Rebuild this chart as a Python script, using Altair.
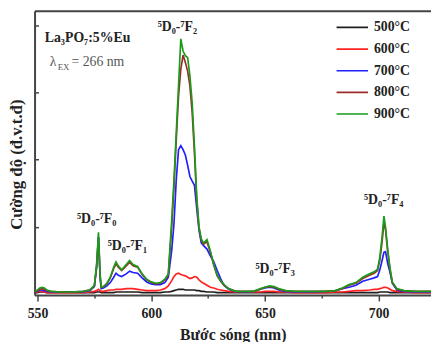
import altair as alt
import pandas as pd

# ---------------- data ----------------
wavelength = [549, 550, 551, 552, 553, 554, 556, 560, 565, 570,
              573, 575, 576, 576.8, 577.5, 578, 579, 580.5, 582, 583.5,
              584.5, 585.5, 587, 589, 590.5, 592, 594, 596, 598, 600,
              602, 604, 606, 607.5, 609, 610, 611, 612, 613, 614,
              615, 616, 617, 618, 619, 620, 621, 622, 623, 624.5,
              626, 627.5, 629, 630.5, 632, 634, 637, 641, 645, 648,
              650, 652, 654, 656, 659, 663, 670, 677, 681, 684,
              687, 690, 693, 696, 698, 699.5, 700.5, 701.5, 702.3, 703,
              704, 705, 706, 708, 711, 716, 723]

i500 = [0.02, 0.02, 0.03, 0.03, 0.03, 0.02, 0.02, 0.02, 0.02, 0.02,
        0.02, 0.02, 0.03, 0.03, 0.03, 0.02, 0.02, 0.02, 0.02, 0.02,
        0.03, 0.03, 0.03, 0.03, 0.03, 0.03, 0.03, 0.02, 0.02, 0.02,
        0.02, 0.02, 0.03, 0.03, 0.04, 0.05, 0.06, 0.07, 0.07, 0.07,
        0.06, 0.06, 0.06, 0.06, 0.06, 0.05, 0.05, 0.04, 0.04, 0.03,
        0.03, 0.03, 0.02, 0.02, 0.02, 0.02, 0.02, 0.02, 0.02, 0.02,
        0.02, 0.02, 0.02, 0.02, 0.02, 0.02, 0.02, 0.02, 0.02, 0.02,
        0.02, 0.02, 0.02, 0.02, 0.02, 0.02, 0.03, 0.03, 0.03, 0.03,
        0.03, 0.02, 0.02, 0.02, 0.02, 0.02, 0.02]

i600 = [0.02, 0.03, 0.04, 0.04, 0.03, 0.02, 0.02, 0.02, 0.02, 0.02,
        0.03, 0.04, 0.05, 0.07, 0.05, 0.04, 0.04, 0.05, 0.06, 0.06,
        0.07, 0.07, 0.07, 0.08, 0.08, 0.08, 0.07, 0.06, 0.05, 0.05,
        0.05, 0.06, 0.08, 0.12, 0.20, 0.26, 0.30, 0.31, 0.29, 0.28,
        0.27, 0.25, 0.23, 0.24, 0.26, 0.25, 0.21, 0.18, 0.16, 0.13,
        0.10, 0.09, 0.07, 0.06, 0.05, 0.04, 0.03, 0.03, 0.03, 0.03,
        0.04, 0.04, 0.04, 0.03, 0.03, 0.02, 0.02, 0.02, 0.03, 0.03,
        0.04, 0.05, 0.05, 0.06, 0.07, 0.07, 0.08, 0.09, 0.10, 0.10,
        0.09, 0.07, 0.05, 0.04, 0.03, 0.02, 0.02]

i700 = [0.03, 0.04, 0.06, 0.06, 0.05, 0.04, 0.03, 0.03, 0.03, 0.03,
        0.05, 0.11, 0.40, 0.85, 0.25, 0.08, 0.09, 0.12, 0.17, 0.25,
        0.31, 0.28, 0.26, 0.30, 0.34, 0.32, 0.31, 0.24, 0.18, 0.15,
        0.14, 0.14, 0.17, 0.25, 0.65, 1.05, 1.70, 2.15, 2.21, 2.15,
        2.07, 1.92, 1.75, 1.68, 1.62, 1.28, 0.95, 0.76, 0.72, 0.67,
        0.57, 0.48, 0.35, 0.23, 0.13, 0.07, 0.04, 0.03, 0.04, 0.07,
        0.09, 0.10, 0.09, 0.06, 0.04, 0.03, 0.03, 0.04, 0.05, 0.08,
        0.10, 0.13, 0.19, 0.22, 0.24, 0.26, 0.36, 0.50, 0.62, 0.63,
        0.45, 0.32, 0.16, 0.06, 0.04, 0.03, 0.03]

i800 = [0.03, 0.05, 0.07, 0.08, 0.07, 0.05, 0.04, 0.03, 0.03, 0.04,
        0.06, 0.12, 0.42, 0.85, 0.28, 0.10, 0.11, 0.15, 0.24, 0.38,
        0.45, 0.40, 0.35, 0.42, 0.47, 0.42, 0.40, 0.29, 0.21, 0.17,
        0.15, 0.16, 0.21, 0.28, 1.00, 1.60, 2.30, 2.95, 3.35, 3.56,
        3.45, 3.32, 3.10, 2.70, 2.10, 1.40, 0.98, 0.80, 0.74, 0.78,
        0.62, 0.43, 0.27, 0.19, 0.13, 0.08, 0.04, 0.04, 0.04, 0.07,
        0.10, 0.11, 0.10, 0.07, 0.05, 0.04, 0.04, 0.04, 0.05, 0.08,
        0.13, 0.16, 0.23, 0.28, 0.31, 0.35, 0.50, 0.78, 1.06, 0.96,
        0.62, 0.36, 0.17, 0.07, 0.05, 0.04, 0.04]

i900 = [0.04, 0.06, 0.09, 0.10, 0.09, 0.06, 0.04, 0.03, 0.03, 0.04,
        0.06, 0.13, 0.45, 0.92, 0.30, 0.10, 0.11, 0.16, 0.25, 0.40,
        0.48, 0.42, 0.36, 0.44, 0.50, 0.44, 0.41, 0.30, 0.22, 0.18,
        0.16, 0.17, 0.22, 0.30, 1.10, 1.70, 2.40, 3.10, 3.80, 3.62,
        3.55, 3.52, 3.25, 2.85, 2.20, 1.45, 1.00, 0.82, 0.76, 0.81,
        0.64, 0.44, 0.28, 0.20, 0.14, 0.08, 0.04, 0.04, 0.04, 0.08,
        0.10, 0.12, 0.11, 0.08, 0.05, 0.04, 0.04, 0.04, 0.05, 0.09,
        0.14, 0.17, 0.25, 0.30, 0.33, 0.37, 0.55, 0.85, 1.16, 1.00,
        0.65, 0.38, 0.18, 0.08, 0.05, 0.04, 0.04]

series_names = ["500°C", "600°C", "700°C", "800°C", "900°C"]
series_colors = ["#1e1e1e", "#ff2222", "#2020ff", "#9c2c2c", "#1b9a1b"]

x_all_ticks = [550, 575, 600, 625, 650, 675, 700]
y_ticks = [1, 2, 3, 4]

peak_text = ["⁵D₀-⁷F₀", "⁵D₀-⁷F₁", "⁵D₀-⁷F₂", "⁵D₀-⁷F₃", "⁵D₀-⁷F₄"]
peak_wl = [576.0, 589.5, 611.5, 654.5, 702.2]
peak_val = [1.11, 0.72, 3.97, 0.37, 1.40]

sample_text = ["La₃PO₇:5%Eu"]
sample_wl = [553.2]
sample_val = [3.82]

ex_wl = [555.4]
ex_val = [3.46]

# ---------------- build ----------------
rows = []
for name, vals in zip(series_names, [i500, i600, i700, i800, i900]):
    for w, v in zip(wavelength, vals):
        rows.append({"wl": w, "val": v, "series": name})
df = pd.DataFrame(rows)

peaks = pd.DataFrame({"t": peak_text, "wl": peak_wl, "val": peak_val})
sample = pd.DataFrame({"t": sample_text, "wl": sample_wl, "val": sample_val})
ex = pd.DataFrame({"wl": ex_wl, "val": ex_val})

W, H = 403, 289
FONT = "Liberation Serif"
TXT = "#222222"
FRAME = "#454545"

xs = alt.Scale(domain=[548.7, 723], nice=False, zero=False)
ys = alt.Scale(domain=[-0.015, 4.22], nice=False, zero=False)

lines = alt.Chart(df).mark_line(strokeWidth=1.7, clip=True).encode(
    x=alt.X("wl:Q", scale=xs, axis=alt.Axis(
        orient="bottom", values=x_all_ticks, grid=False,
        labelExpr="datum.value % 50 === 0 ? datum.label : ''",
        tickSize={"condition": {"test": "datum.value % 50 === 0", "value": 6}, "value": 3},
        tickColor=FRAME, tickWidth=1.5, domainColor=FRAME, domainWidth=2,
        labelFont=FONT, labelFontSize=14, labelFontWeight="bold", labelColor=TXT,
        labelPadding=6, labelFlush=False, labelOverlap=False,
        title="Bước sóng (nm)", titleFont=FONT, titleFontSize=16,
        titleFontWeight="bold", titleColor=TXT, titlePadding=6)),
    y=alt.Y("val:Q", scale=ys, axis=alt.Axis(
        orient="left", ticks=False, labels=False, grid=False,
        domainColor=FRAME, domainWidth=2,
        title="Cường độ (đ.v.t.đ)", titleFont=FONT, titleFontSize=17,
        titleFontWeight="bold", titleColor=TXT, titlePadding=9, titleY=156)),
    color=alt.Color("series:N", scale=alt.Scale(domain=series_names, range=series_colors),
                    legend=alt.Legend(
                        orient="none", legendX=314, legendY=8, title=None,
                        symbolType="M-2,0H2", symbolSize=256, symbolStrokeWidth=1.7,
                        labelFont=FONT, labelFontSize=14, labelFontWeight="bold",
                        labelColor=TXT, labelOffset=13, rowPadding=6, padding=0)),
    order=alt.Order("series:N"),
)

peak_layer = alt.Chart(peaks).mark_text(
    font=FONT, fontSize=14, fontWeight="bold", color=TXT, baseline="middle", align="center"
).encode(
    x=alt.X("wl:Q", scale=xs, axis=alt.Axis(
        orient="top", ticks=False, labels=False, grid=False, title=None,
        domainColor=FRAME, domainWidth=2)),
    y=alt.Y("val:Q", scale=ys, axis=alt.Axis(
        orient="right", offset=-W, values=y_ticks, tickSize=4, tickWidth=1.5,
        tickColor=FRAME, labels=False, domain=False, grid=False, title=None)),
    text="t:N",
)

sample_layer = alt.Chart(sample).mark_text(
    font=FONT, fontSize=14, fontWeight="bold", color=TXT, baseline="middle", align="left"
).encode(
    x=alt.X("wl:Q", scale=xs, axis=None),
    y=alt.Y("val:Q", scale=ys, axis=None),
    text="t:N",
)

lam = alt.Chart(ex).mark_text(
    font=FONT, fontSize=14, color="#555555", baseline="middle", align="left", text="λ"
).encode(x=alt.X("wl:Q", scale=xs, axis=None), y=alt.Y("val:Q", scale=ys, axis=None))

lam_sub = alt.Chart(ex).mark_text(
    font=FONT, fontSize=9, color="#555555", baseline="middle", align="left",
    text="EX", dx=8, dy=5
).encode(x=alt.X("wl:Q", scale=xs, axis=None), y=alt.Y("val:Q", scale=ys, axis=None))

lam_rest = alt.Chart(ex).mark_text(
    font=FONT, fontSize=14, color="#555555", baseline="middle", align="left",
    text="= 266 nm", dx=22
).encode(x=alt.X("wl:Q", scale=xs, axis=None), y=alt.Y("val:Q", scale=ys, axis=None))

chart = alt.layer(lines, peak_layer, sample_layer, lam, lam_sub, lam_rest).resolve_axis(
    x="independent", y="independent"
).properties(
    width=W, height=H,
    autosize=alt.AutoSizeParams(type="none"),
    padding={"left": 27, "top": 0, "right": 0, "bottom": 45},
).configure_view(stroke=None).configure(background="white")

chart.save("out.html", embed_options={"renderer": "svg", "actions": False})
